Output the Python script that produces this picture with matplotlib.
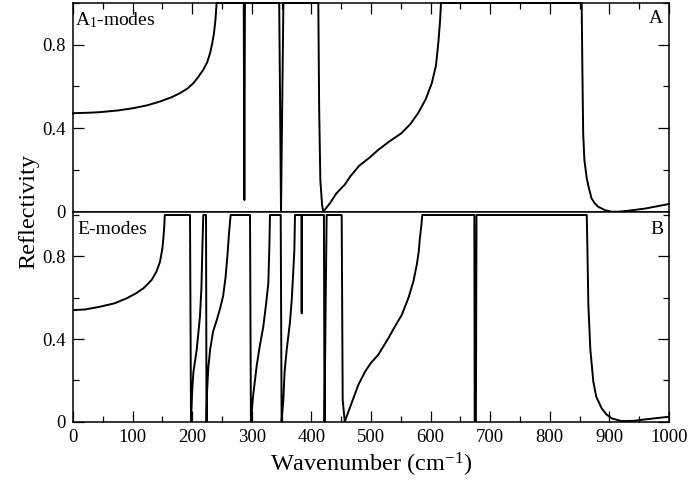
import matplotlib
matplotlib.use("Agg")
import matplotlib.pyplot as plt
from matplotlib.ticker import MultipleLocator

plt.rcParams['font.family'] = ['Liberation Serif', 'DejaVu Serif']
plt.rcParams['mathtext.fontset'] = 'custom'
plt.rcParams['mathtext.rm'] = 'Liberation Serif'
plt.rcParams['mathtext.it'] = 'Liberation Serif:italic'

# ---- Data ----
# Panel A: A1-modes reflectivity
a1_x = [0, 25, 45, 75, 101, 125, 146, 165, 179.5, 192, 202, 210, 218.6, 225, 230, 233.5, 236.6, 239, 241,
        286.5, 287.5, 288.5,
        346, 349, 353,
        411.6, 413, 415, 418, 420,
        431, 442, 456, 465, 480, 498, 512, 530, 551, 566, 579, 592, 602, 609, 613, 616, 617.4,
        853.5, 854.6, 856, 858, 862, 865, 870, 875, 881, 893, 904, 915, 930, 960, 1000]
a1_r = [0.472, 0.474, 0.477, 0.485, 0.496, 0.51, 0.528, 0.548, 0.568, 0.59, 0.616, 0.645, 0.68, 0.715, 0.76, 0.805, 0.856, 0.92, 1.0,
        1.0, 0.056, 1.0,
        1.0, 0.0, 1.0,
        1.0, 0.5, 0.15, 0.03, 0.0,
        0.04, 0.088, 0.13, 0.168, 0.22, 0.26, 0.296, 0.335, 0.376, 0.42, 0.472, 0.54, 0.616, 0.7, 0.81, 0.92, 1.0,
        1.0, 0.696, 0.376, 0.248, 0.16, 0.12, 0.064, 0.042, 0.024, 0.007, 0.0, 0.0, 0.004, 0.015, 0.037]

# Panel B: E-modes reflectivity
e_x = [0, 20, 45, 70, 90, 105, 118, 125, 132, 140, 146, 150, 151.6, 153, 154,
       196.3, 198, 200, 202, 207.5, 213, 215.5, 217, 218.6,
       223.2, 224, 225, 227, 230, 235, 241, 247, 252, 256, 259, 262, 264.5,
       297, 298.5, 302, 308, 313, 319.3, 324, 327.7, 329.5, 330.5,
       348.5, 350, 352.9, 355, 358.5, 364, 367, 370, 371.4, 372.5,
       383.2, 383.7, 384.2,
       421, 422, 424, 425.6,
       450.8, 452.5, 456,
       462, 470, 478.7, 490, 500, 512, 529, 540, 551.5, 562.6, 571, 576.7, 580, 582, 584.5, 586,
       673.4, 674, 676, 677,
       862, 863, 864.7, 868, 873, 878, 887, 895, 904, 920, 940, 959.7, 1000]
e_r = [0.540, 0.543, 0.556, 0.573, 0.597, 0.62, 0.645, 0.665, 0.686, 0.726, 0.774, 0.839, 0.887, 0.94, 1.0,
       1.0, 0.0, 0.15, 0.24, 0.347, 0.508, 0.65, 0.83, 1.0,
       1.0, 0.0, 0.15, 0.26, 0.347, 0.436, 0.49, 0.55, 0.61, 0.70, 0.80, 0.92, 1.0,
       1.0, 0.0, 0.12, 0.266, 0.36, 0.46, 0.57, 0.67, 0.85, 1.0,
       1.0, 0.0, 0.105, 0.24, 0.347, 0.48, 0.589, 0.75, 0.83, 1.0,
       1.0, 0.524, 1.0,
       1.0, 0.0, 0.6, 1.0,
       1.0, 0.105, 0.0,
       0.048, 0.11, 0.178, 0.242, 0.285, 0.323, 0.403, 0.46, 0.516, 0.597, 0.677, 0.758, 0.82, 0.887, 0.95, 1.0,
       1.0, 0.0, 0.0, 1.0,
       1.0, 0.85, 0.565, 0.35, 0.194, 0.12, 0.065, 0.035, 0.016, 0.003, 0.004, 0.011, 0.024]

y_ticks = [0, 0.4, 0.8]
y_tick_labels = ["0", "0.4", "0.8"]
x_ticks = [0, 100, 200, 300, 400, 500, 600, 700, 800, 900, 1000]

fig = plt.figure(figsize=(6.9, 4.88), dpi=100)
left, right = 73 / 690, 669 / 690
mid = 1 - 211.7 / 488
top = 1 - 3 / 488
bot = 1 - 421.7 / 488
axA = fig.add_axes([left, mid, right - left, top - mid])
axB = fig.add_axes([left, bot, right - left, mid - bot])

lw = 1.4
axA.plot(a1_x, a1_r, color='black', lw=lw, solid_joinstyle='round', clip_on=False)
axB.plot(e_x, e_r, color='black', lw=lw, solid_joinstyle='round')

axA.set_ylim(0, 1.0)
axB.set_ylim(0, 1.016)
for ax in (axA, axB):
    ax.set_xlim(0, 1000)
    ax.set_yticks(y_ticks)
    ax.set_yticklabels(y_tick_labels)
    ax.yaxis.set_minor_locator(MultipleLocator(0.2))
    ax.xaxis.set_minor_locator(MultipleLocator(50))
    ax.set_xticks(x_ticks)
    for sp in ax.spines.values():
        sp.set_linewidth(1.1)
    ax.tick_params(which='major', direction='in', length=8, width=0.9, labelsize=13.5, pad=5)
    ax.tick_params(which='minor', direction='in', length=4, width=0.9)

axA.tick_params(which='both', top=True, bottom=False, left=True, right=True, labelbottom=False)
axB.tick_params(which='both', top=False, bottom=True, left=True, right=True)

axA.text(0.003, 0.965, r"A$_1$-modes", transform=axA.transAxes, ha='left', va='top', fontsize=14)
axA.text(0.99, 0.965, "A", transform=axA.transAxes, ha='right', va='top', fontsize=14)
axB.text(0.008, 0.955, "E-modes", transform=axB.transAxes, ha='left', va='top', fontsize=14)
axB.text(0.99, 0.955, "B", transform=axB.transAxes, ha='right', va='top', fontsize=14)

axB.set_xlabel(r"Wavenumber (cm$^{-1}$)", fontsize=17.5, labelpad=4)
fig.text(0.042, mid, "Reflectivity", rotation=90, ha='center', va='center', fontsize=17.5)

fig.savefig("out.png", dpi=100)
